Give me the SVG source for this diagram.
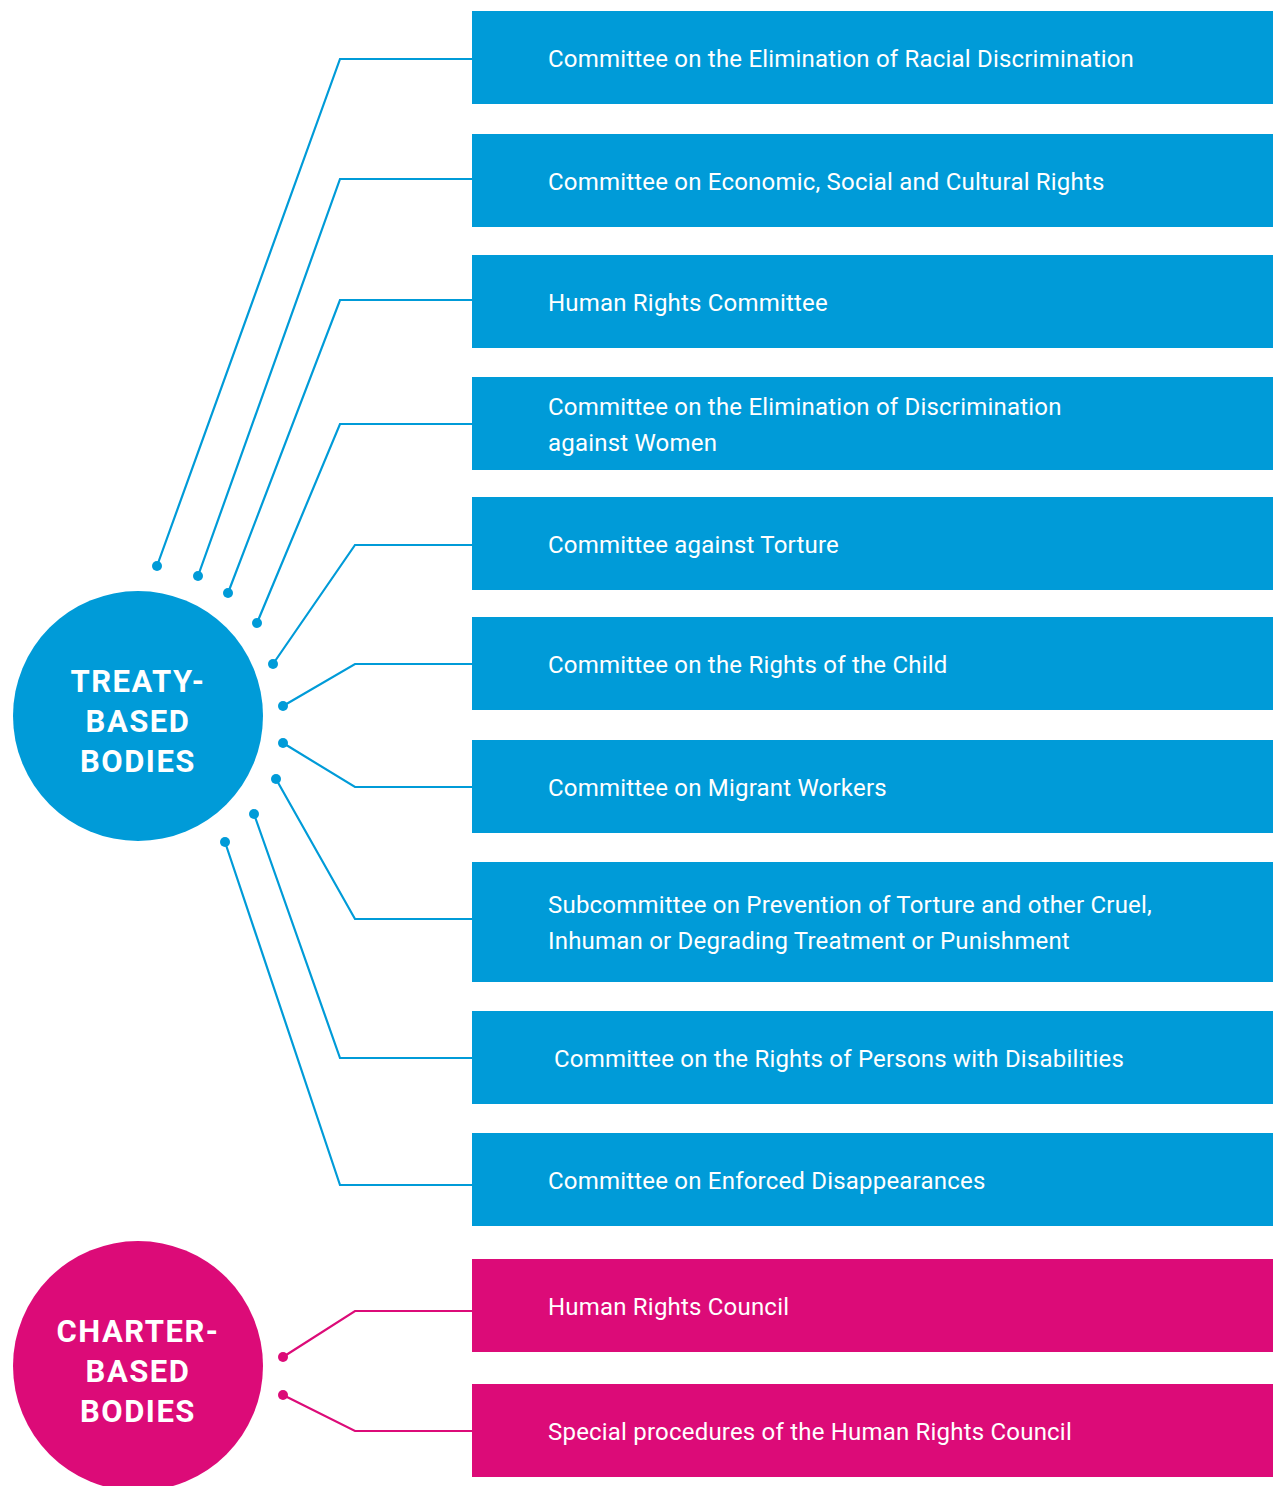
<svg xmlns="http://www.w3.org/2000/svg" width="1273" height="1486" viewBox="0 0 1273 1486">
<style>
.bb{fill:#009bd8}
.pb{fill:#dc0b78}
.t{font-family:Roboto,"Liberation Sans",sans-serif;font-size:24px;fill:#fff;letter-spacing:0.2px}
.h{font-family:Roboto,"Liberation Sans",sans-serif;font-size:31px;font-weight:bold;fill:#fff;text-anchor:middle;letter-spacing:1.5px}
.cb{fill:none;stroke:#009bd8;stroke-width:2.2}
.cp{fill:none;stroke:#dc0b78;stroke-width:2.2}
.db{fill:#009bd8}
.dp{fill:#dc0b78}
</style>
<rect width="1273" height="1486" fill="#fff"/>
<g id="connectors">
<path class="cb" d="M157,566 L340,59 H472"/>
<path class="cb" d="M198,576 L340,179 H472"/>
<path class="cb" d="M228,593 L340,300 H472"/>
<path class="cb" d="M257,623 L340,424 H472"/>
<path class="cb" d="M273,664 L355,545 H472"/>
<path class="cb" d="M283,706 L355,664 H472"/>
<path class="cb" d="M283,743 L355,787 H472"/>
<path class="cb" d="M276,779 L355,919 H472"/>
<path class="cb" d="M254,814 L340,1058 H472"/>
<path class="cb" d="M225,842 L340,1185 H472"/>
<path class="cp" d="M283,1357 L355,1311 H472"/>
<path class="cp" d="M283,1395 L355,1431 H472"/>
<circle class="db" cx="157" cy="566" r="5"/>
<circle class="db" cx="198" cy="576" r="5"/>
<circle class="db" cx="228" cy="593" r="5"/>
<circle class="db" cx="257" cy="623" r="5"/>
<circle class="db" cx="273" cy="664" r="5"/>
<circle class="db" cx="283" cy="706" r="5"/>
<circle class="db" cx="283" cy="743" r="5"/>
<circle class="db" cx="276" cy="779" r="5"/>
<circle class="db" cx="254" cy="814" r="5"/>
<circle class="db" cx="225" cy="842" r="5"/>
<circle class="dp" cx="283" cy="1357" r="5"/>
<circle class="dp" cx="283" cy="1395" r="5"/>
</g>
<g id="treaty">
<circle class="bb" cx="138" cy="716" r="125"/>
<text class="h" x="138" y="692">TREATY-</text>
<text class="h" x="138" y="732">BASED</text>
<text class="h" x="138" y="772">BODIES</text>
</g>
<g id="charter">
<circle class="pb" cx="138" cy="1366" r="125"/>
<text class="h" x="138" y="1342">CHARTER-</text>
<text class="h" x="138" y="1382">BASED</text>
<text class="h" x="138" y="1422">BODIES</text>
</g>
<g id="n1"><rect class="bb" x="472" y="11" width="801" height="93"/><text class="t" x="548" y="67">Committee on the Elimination of Racial Discrimination</text></g>
<g id="n2"><rect class="bb" x="472" y="134" width="801" height="93"/><text class="t" x="548" y="190">Committee on Economic, Social and Cultural Rights</text></g>
<g id="n3"><rect class="bb" x="472" y="255" width="801" height="93"/><text class="t" x="548" y="311">Human Rights Committee</text></g>
<g id="n4"><rect class="bb" x="472" y="377" width="801" height="93"/><text class="t" x="548" y="415">Committee on the Elimination of Discrimination</text><text class="t" x="548" y="451">against Women</text></g>
<g id="n5"><rect class="bb" x="472" y="497" width="801" height="93"/><text class="t" x="548" y="553">Committee against Torture</text></g>
<g id="n6"><rect class="bb" x="472" y="617" width="801" height="93"/><text class="t" x="548" y="673">Committee on the Rights of the Child</text></g>
<g id="n7"><rect class="bb" x="472" y="740" width="801" height="93"/><text class="t" x="548" y="796">Committee on Migrant Workers</text></g>
<g id="n8"><rect class="bb" x="472" y="862" width="801" height="120"/><text class="t" x="548" y="913">Subcommittee on Prevention of Torture and other Cruel,</text><text class="t" x="548" y="949">Inhuman or Degrading Treatment or Punishment</text></g>
<g id="n9"><rect class="bb" x="472" y="1011" width="801" height="93"/><text class="t" x="554" y="1067">Committee on the Rights of Persons with Disabilities</text></g>
<g id="n10"><rect class="bb" x="472" y="1133" width="801" height="93"/><text class="t" x="548" y="1189">Committee on Enforced Disappearances</text></g>
<g id="n11"><rect class="pb" x="472" y="1259" width="801" height="93"/><text class="t" x="548" y="1315">Human Rights Council</text></g>
<g id="n12"><rect class="pb" x="472" y="1384" width="801" height="93"/><text class="t" x="548" y="1440">Special procedures of the Human Rights Council</text></g>
</svg>
